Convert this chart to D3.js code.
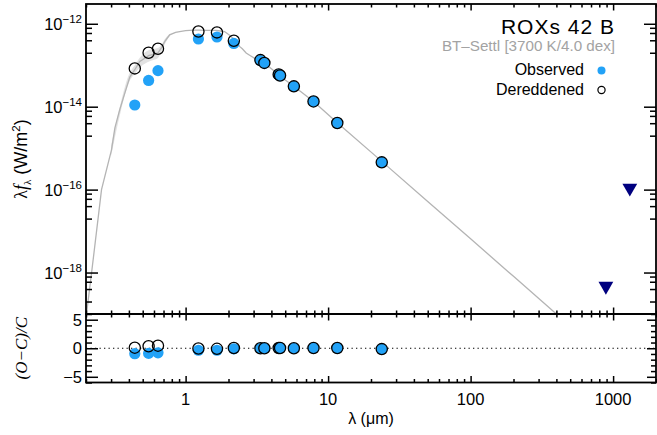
<!DOCTYPE html>
<html><head><meta charset="utf-8">
<script src="https://cdn.jsdelivr.net/npm/d3@7"></script>
<style>body{margin:0;background:#fff}svg{display:block}</style>
</head><body>
<svg id="c" width="657" height="435"></svg>
<script>
// ---------- data ----------
const bands = ["B","V","R","J","H","Ks","W1","I1","I2","W2","I3","I4","W3","W4"];
const wavelength = [0.44,0.55,0.64,1.23,1.66,2.18,3.35,3.57,4.5,4.6,5.75,7.9,11.6,23.8];
const observedFlux = [1.1e-14,4.3e-14,7.4e-14,4.3e-13,4.8e-13,3.35e-13,1.3e-13,1.13e-13,5.9e-14,5.6e-14,3.1e-14,1.34e-14,4.05e-15,4.55e-16];
const dereddenedFlux = [8.4e-14,2.0e-13,2.5e-13,6.5e-13,6.2e-13,3.9e-13,1.33e-13,1.14e-13,6.0e-14,5.65e-14,3.1e-14,1.34e-14,4.05e-15,4.55e-16];
const observedResid = [-0.95,-0.9,-0.8,-0.35,-0.35,-0.1,0.0,0.0,0.05,0.05,0.0,0.05,0.05,-0.15];
const dereddenedResid = [0.1,0.35,0.45,-0.05,-0.1,0.05,0.0,0.0,0.05,0.05,0.0,0.05,0.05,-0.15];

const limitWave = [890, 1310];
const limitFlux = [4.7e-19, 1.1e-16];

const modelWave = [0.195,0.219,0.257,0.302,0.319,0.345,0.374,0.406,0.44,0.477,0.52,0.55,0.60,0.64,0.68,0.713,0.773,0.85,0.908,1.0,1.066,1.15,1.25,1.40,1.55,1.64,1.75,1.875,1.95,2.09,2.2,2.3,2.39,2.5,2.66,2.85,3.04,3.35,3.57,4.0,4.5,5.0,5.75,7.9,11.6,23.8,50,100,200,400,520];
const modelFlux = [4.0e-20,1.0e-18,1.0e-16,9.1e-16,3.1e-15,8.5e-15,2.1e-14,5.2e-14,7.8e-14,1.23e-13,1.5e-13,1.7e-13,1.85e-13,2.0e-13,2.7e-13,3.7e-13,5.4e-13,6.2e-13,6.5e-13,6.8e-13,6.9e-13,7.0e-13,7.0e-13,6.95e-13,6.9e-13,6.9e-13,6.7e-13,6.5e-13,5.9e-13,4.95e-13,4.1e-13,3.6e-13,2.85e-13,2.5e-13,1.97e-13,1.7e-13,1.49e-13,1.3e-13,1.13e-13,8.2e-14,5.9e-14,4.4e-14,3.1e-14,1.34e-14,4.1e-15,4.8e-16,5.2e-17,6.5e-18,8.1e-19,1.0e-19,4.8e-20];

const bandWave = [0.30,0.35,0.40,0.44,0.48,0.52,0.56,0.60,0.64,0.68,0.72,0.78];
const bandLo = [6.5e-16,7.5e-15,3.8e-14,6.2e-14,9.0e-14,1.1e-13,1.25e-13,1.35e-13,1.5e-13,2.2e-13,3.4e-13,5.2e-13];
const bandHi = [1.15e-15,1.2e-14,6.0e-14,1.0e-13,1.55e-13,2.05e-13,2.35e-13,2.5e-13,2.6e-13,3.2e-13,4.4e-13,5.8e-13];

const xMajor = [1,10,100,1000];
const xMinor = [0.2,0.3,0.4,0.5,0.6,0.7,0.8,0.9,2,3,4,5,6,7,8,9,20,30,40,50,60,70,80,90,200,300,400,500,600,700,800,900,2000];
const yMajorExp = [-12,-14,-16,-18];
const yMinorMult = [0.2,0.4,0.6,0.8];
const residMajor = [-5,0,5];
const residMinor = [-6,-4,-3,-2,-1,1,2,3,4,6];

const blue = "#22a2f7";
const font = "'Liberation Sans', Arial, Helvetica, sans-serif";

// ---------- layout ----------
const L = 86, R = 656, T = 4, M = 314, B = 382.5;
const svg = d3.select("#c");
const x = d3.scaleLog().domain([0.2, 2000]).range([L, R]);
const yT = d3.scaleLog().domain([1e-19, 3e-12]).range([M, T]);
const yB = d3.scaleLinear().domain([-6, 6]).range([B, M]);

svg.append("defs").append("clipPath").attr("id","clipT")
  .append("rect").attr("x",L).attr("y",T).attr("width",R-L).attr("height",M-T);

// model band + line
const gT = svg.append("g").attr("clip-path","url(#clipT)");
const bandData = bandWave.map((w,i)=>({w, lo:bandLo[i], hi:bandHi[i]}));
gT.append("path").datum(bandData)
  .attr("d", d3.area().x(d=>x(d.w)).y0(d=>yT(d.lo)).y1(d=>yT(d.hi)).curve(d3.curveMonotoneX))
  .attr("fill","#e2e2e2");
const modelData = modelWave.map((w,i)=>({w, f:modelFlux[i]}));
gT.append("path").datum(modelData)
  .attr("d", d3.line().x(d=>x(d.w)).y(d=>yT(d.f)))
  .attr("fill","none").attr("stroke","#b4b4b4").attr("stroke-width",1.3);

// points top panel
const pts = wavelength.map((w,i)=>({w, o:observedFlux[i], d:dereddenedFlux[i], ro:observedResid[i], rd:dereddenedResid[i]}));
const r = 5.6;
pts.forEach(p=>{
  gT.append("circle").attr("cx",x(p.w)).attr("cy",yT(p.o)).attr("r",r).attr("fill",blue);
  gT.append("circle").attr("cx",x(p.w)).attr("cy",yT(p.d)).attr("r",r).attr("fill","none").attr("stroke","#000").attr("stroke-width",1.3);
});

// upper limits
const tri = d3.symbol().type(d3.symbolTriangle).size(95);
limitWave.forEach((w,i)=>{
  gT.append("path").attr("d",tri())
    .attr("transform",`translate(${x(w)},${yT(limitFlux[i])}) rotate(180)`)
    .attr("fill","#00007f");
});

// bottom panel
svg.append("line").attr("x1",L).attr("x2",R).attr("y1",yB(0)).attr("y2",yB(0))
  .attr("stroke","#000").attr("stroke-width",1.2).attr("stroke-dasharray","1.3,3.2");
pts.forEach(p=>{
  svg.append("circle").attr("cx",x(p.w)).attr("cy",yB(p.ro)).attr("r",r).attr("fill",blue);
  svg.append("circle").attr("cx",x(p.w)).attr("cy",yB(p.rd)).attr("r",r).attr("fill","none").attr("stroke","#000").attr("stroke-width",1.3);
});

// ---------- axes / ticks ----------
function ticks(axis, vals, size, tx, ty){
  const g = svg.append("g").attr("transform",`translate(${tx},${ty})`)
    .call(axis.tickValues(vals).tickSizeInner(size).tickSizeOuter(0).tickFormat(""));
  g.select(".domain").remove();
  g.selectAll("line").attr("stroke","#000").attr("stroke-width",1.5);
  return g;
}
// x ticks
[[d3.axisTop, T],[d3.axisBottom, M],[d3.axisTop, M],[d3.axisBottom, B]].forEach(([ax, yy])=>{
  ticks(ax(x), xMajor, -6.5, 0, yy);
  ticks(ax(x), xMinor, -3.5, 0, yy);
});
// y ticks top panel
const yMaj = yMajorExp.map(e=>Math.pow(10,e));
const yMin = [];
yMajorExp.forEach(e=>yMinorMult.forEach(m=>yMin.push(m*Math.pow(10,e))));
ticks(d3.axisLeft(yT), yMaj, -12, L, 0);
ticks(d3.axisLeft(yT), yMin, -6, L, 0);
ticks(d3.axisRight(yT), yMaj, -12, R, 0);
ticks(d3.axisRight(yT), yMin, -6, R, 0);
// y ticks bottom panel
ticks(d3.axisLeft(yB), residMajor, -12, L, 0);
ticks(d3.axisLeft(yB), residMinor, -6, L, 0);
ticks(d3.axisRight(yB), residMajor, -9, R, 0);
ticks(d3.axisRight(yB), residMinor, -5, R, 0);

// frames
svg.append("rect").attr("x",L).attr("y",T).attr("width",R-L).attr("height",M-T)
  .attr("fill","none").attr("stroke","#000").attr("stroke-width",1.8);
svg.append("rect").attr("x",L).attr("y",M).attr("width",R-L).attr("height",B-M)
  .attr("fill","none").attr("stroke","#000").attr("stroke-width",1.8);

// tick labels
yMajorExp.forEach(e=>{
  const t = svg.append("text").attr("x",82).attr("y",yT(Math.pow(10,e))+6)
    .attr("text-anchor","end").attr("font-family",font).attr("font-size",16.5).attr("fill","#000");
  t.append("tspan").text("10");
  t.append("tspan").attr("dy",-7).attr("font-size",11.5).text("\u2212"+Math.abs(e));
});
residMajor.forEach(v=>{
  svg.append("text").attr("x",82).attr("y",yB(v)+6).attr("text-anchor","end")
    .attr("font-family",font).attr("font-size",16.5).text(v<0?"\u2212"+Math.abs(v):String(v));
});
xMajor.forEach(v=>{
  svg.append("text").attr("x",x(v)).attr("y",405).attr("text-anchor","middle")
    .attr("font-family",font).attr("font-size",16.5).text(String(v));
});

// axis titles
svg.append("text").attr("x",(L+R)/2).attr("y",424).attr("text-anchor","middle")
  .attr("font-family",font).attr("font-size",16).text("\u03bb (\u03bcm)");

const yt = svg.append("text").attr("transform",`translate(27,${(T+M)/2}) rotate(-90)`)
  .attr("text-anchor","middle").attr("font-family",font).attr("font-size",18);
yt.append("tspan").attr("font-family","'Liberation Serif', 'DejaVu Serif', serif").text("\u03bb");
yt.append("tspan").attr("font-family","'Liberation Serif', serif").attr("font-style","italic").text("f");
yt.append("tspan").attr("font-family","'Liberation Serif', serif").attr("font-size",11).attr("dy",4).text("\u03bb");
yt.append("tspan").attr("dy",-4).text(" (W/m");
yt.append("tspan").attr("font-size",11.5).attr("dy",-7).text("2");
yt.append("tspan").attr("dy",7).text(")");

svg.append("text").attr("transform",`translate(27,${(M+B)/2}) rotate(-90)`)
  .attr("text-anchor","middle").attr("font-family","'Liberation Serif', 'Times New Roman', serif")
  .attr("font-style","italic").attr("font-size",17).text("(O\u2212C)/C");

// legend
svg.append("text").attr("x",615).attr("y",34).attr("text-anchor","end")
  .attr("font-family",font).attr("font-size",21).attr("letter-spacing",1).text("ROXs 42 B");
svg.append("text").attr("x",615).attr("y",51).attr("text-anchor","end")
  .attr("font-family",font).attr("font-size",15.2).attr("fill","#a3a3a3").text("BT\u2013Settl [3700 K/4.0 dex]");
svg.append("text").attr("x",584).attr("y",75).attr("text-anchor","end")
  .attr("font-family",font).attr("font-size",16).text("Observed");
svg.append("circle").attr("cx",601.5).attr("cy",70.5).attr("r",4).attr("fill",blue);
svg.append("text").attr("x",584).attr("y",95).attr("text-anchor","end")
  .attr("font-family",font).attr("font-size",16).text("Dereddened");
svg.append("circle").attr("cx",601.5).attr("cy",90).attr("r",3.6).attr("fill","none").attr("stroke","#000").attr("stroke-width",1.2);
</script>
</body></html>
